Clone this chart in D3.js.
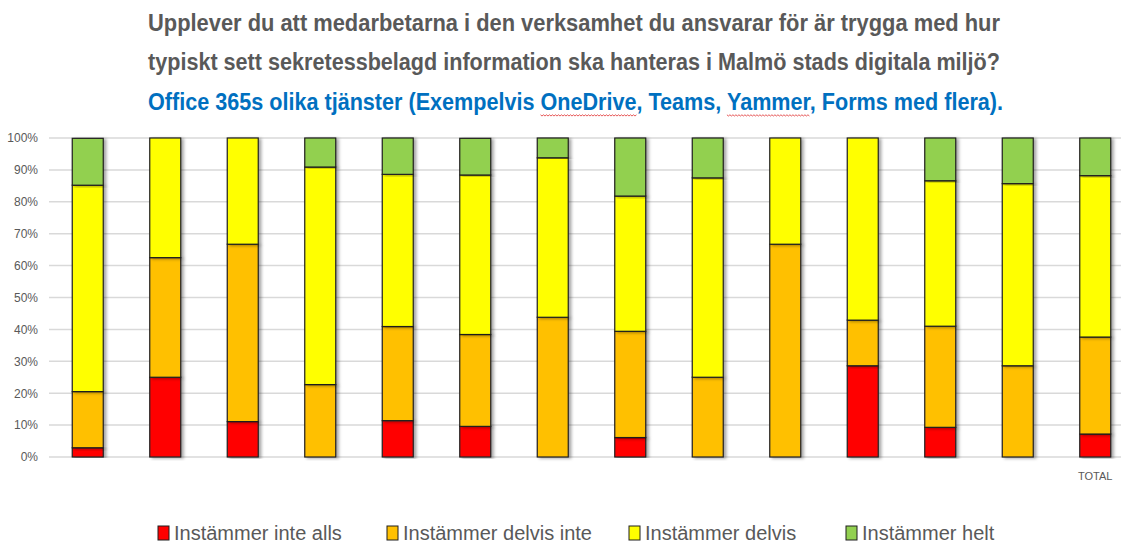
<!DOCTYPE html>
<html>
<head>
<meta charset="utf-8">
<script src="https://cdn.jsdelivr.net/npm/d3@7"></script>
<style>
  body { margin: 0; background: #fff; }
  svg { display: block; font-family: "Liberation Sans Narrow", "Liberation Sans", sans-serif; }
</style>
</head>
<body>
<svg id="chart"></svg>
<script>
const width = 1121;
const height = 544;

// one entry per bar, only the last one is labelled
const labels = ["", "", "", "", "", "", "", "", "", "", "", "", "", "TOTAL"];
const series = ["Instämmer inte alls", "Instämmer delvis inte", "Instämmer delvis", "Instämmer helt"];
const colors = ["#FF0000", "#FFC000", "#FFFF00", "#92D050"];

// shares per bar (%)
const inteAlls   = [2.9, 25.0, 11.1, 0.0, 11.4, 9.6, 0.0, 6.1, 0.0, 0.0, 28.6, 9.3, 0.0, 7.2];
const delvisInte = [17.6, 37.5, 55.6, 22.7, 29.5, 28.8, 43.8, 33.3, 25.0, 66.7, 14.3, 31.7, 28.6, 30.4];
const delvis     = [64.7, 37.5, 33.3, 68.2, 47.7, 50.0, 50.0, 42.4, 62.5, 33.3, 57.1, 45.6, 57.1, 50.6];
const helt       = [14.7, 0.0, 0.0, 9.1, 11.4, 11.5, 6.2, 18.2, 12.5, 0.0, 0.0, 13.4, 14.3, 11.8];

const yTicks = [0, 10, 20, 30, 40, 50, 60, 70, 80, 90, 100];

const titleLines = [
  "Upplever du att medarbetarna i den verksamhet du ansvarar för är trygga med hur",
  "typiskt sett sekretessbelagd information ska hanteras i Malmö stads digitala miljö?"
];
const subtitle = "Office 365s olika tjänster (Exempelvis OneDrive, Teams, Yammer, Forms med flera).";
const spellWords = ["OneDrive", "Yammer"];

const margins = { top: 138, bottom: 87, left: 49 };

const rows = labels.map((l, i) => ({
  i, label: l,
  [series[0]]: inteAlls[i], [series[1]]: delvisInte[i],
  [series[2]]: delvis[i], [series[3]]: helt[i]
}));

const svg = d3.select("#chart")
  .attr("width", width)
  .attr("height", height);

const defs = svg.append("defs");
defs.append("filter")
  .attr("id", "shadow")
  .attr("x", "-20%").attr("y", "-5%").attr("width", "160%").attr("height", "110%")
  .append("feDropShadow")
  .attr("dx", 2.5).attr("dy", 1)
  .attr("stdDeviation", 1.5)
  .attr("flood-color", "#000")
  .attr("flood-opacity", 0.35);

//* titles
svg.append("g")
  .selectAll("text")
  .data(titleLines)
  .join("text")
  .attr("x", 148)
  .attr("y", (d, i) => 31 + i * 39)
  .attr("textLength", 852)
  .attr("lengthAdjust", "spacingAndGlyphs")
  .attr("fill", "#595959")
  .attr("font-size", 23)
  .attr("font-weight", "bold")
  .text(d => d);

const sub = svg.append("text")
  .attr("x", 148)
  .attr("y", 110)
  .attr("textLength", 855)
  .attr("lengthAdjust", "spacingAndGlyphs")
  .attr("fill", "#0070C0")
  .attr("font-size", 23)
  .attr("font-weight", "bold")
  .text(subtitle);

// red wavy spell-check underline
spellWords.forEach(w => {
  const start = subtitle.indexOf(w);
  const node = sub.node();
  const a = node.getStartPositionOfChar(start).x;
  const e = node.getExtentOfChar(start + w.length - 1);
  const b = e.x + e.width;
  const pts = d3.range(a, b, 1.5).map((px, k) => [px, 115 + (k % 2 ? 1 : -0.2)]);
  svg.append("path")
    .attr("d", d3.line()(pts))
    .attr("fill", "none")
    .attr("stroke", "#e03030")
    .attr("stroke-width", 0.8);
});

//* scales
const x = d3.scaleBand()
  .domain(rows.map(d => d.i))
  .range([margins.left, margins.left + 14 * 77.5])
  .paddingInner(0.6)
  .paddingOuter(0.3);

const y = d3.scaleLinear()
  .domain([0, 100])
  .range([height - margins.bottom, margins.top]);

// gridlines
svg.append("g")
  .attr("stroke", "#d9d9d9")
  .attr("stroke-width", 1.5)
  .selectAll("line")
  .data(yTicks)
  .join("line")
  .attr("x1", x.range()[0])
  .attr("x2", x.range()[1])
  .attr("y1", d => y(d))
  .attr("y2", d => y(d));

// y axis labels
const yAxis = svg.append("g")
  .attr("transform", `translate(${margins.left},0)`)
  .call(d3.axisLeft(y).tickValues(yTicks).tickFormat(d => d + "%").tickSize(0).tickPadding(11));
yAxis.select(".domain").remove();
yAxis.selectAll("text")
  .attr("fill", "#595959")
  .attr("font-size", 12)
  .attr("font-family", "Liberation Sans Narrow, Liberation Sans, sans-serif");

// category labels
svg.append("g")
  .selectAll("text")
  .data(rows)
  .join("text")
  .attr("x", d => x(d.i) + x.bandwidth() / 2)
  .attr("y", y(0) + 23)
  .attr("text-anchor", "middle")
  .attr("fill", "#595959")
  .attr("font-size", 11)
  .text(d => d.label);

//* bars
const stack = d3.stack().keys(series);
const stacked = stack(rows);

svg.append("g")
  .selectAll("g")
  .data(stacked)
  .join("g")
  .attr("fill", (d, i) => colors[i])
  .selectAll("rect")
  .data(d => d.filter(s => s[1] - s[0] > 0))
  .join("rect")
  .attr("x", d => x(d.data.i))
  .attr("width", x.bandwidth())
  .attr("y", d => y(d[1]))
  .attr("height", d => y(d[0]) - y(d[1]))
  .attr("stroke", "#1f1f1f")
  .attr("stroke-width", 1.2)
  .attr("filter", "url(#shadow)");

//* legend
const legendX = [158, 387, 629, 846];
const legend = svg.append("g")
  .selectAll("g")
  .data(series)
  .join("g")
  .attr("transform", (d, i) => `translate(${legendX[i]},526)`);

legend.append("rect")
  .attr("width", 11)
  .attr("height", 14)
  .attr("fill", (d, i) => colors[i])
  .attr("stroke", "#1f1f1f")
  .attr("stroke-width", 1);

legend.append("text")
  .attr("x", 16)
  .attr("y", 14)
  .attr("fill", "#595959")
  .attr("font-size", 20)
  .text(d => d);
</script>
</body>
</html>
